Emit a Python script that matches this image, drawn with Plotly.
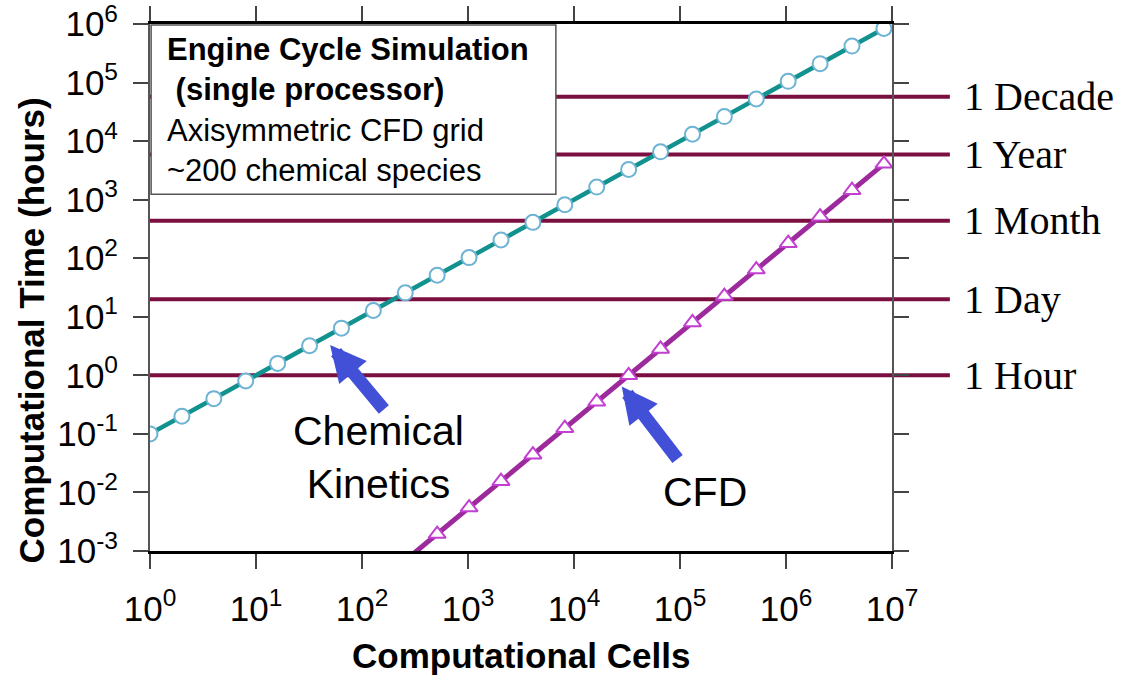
import math
import plotly.graph_objects as go

# ---- data ----
chem_cells = [1, 2, 4, 8, 16, 32, 64, 128, 256, 512, 1024, 2048, 4096, 8192,
              16384, 32768, 65536, 131072, 262144, 524288, 1048576, 2097152,
              4194304, 8388608]
chem_hours = [0.1, 0.2, 0.4, 0.8, 1.6, 3.2, 6.4, 12.8, 25.6, 51.2, 102.4, 204.8,
              409.6, 819.2, 1638.4, 3276.8, 6553.6, 13107.2, 26214.4, 52428.8,
              104857.6, 209715.2, 419430.4, 838860.8]

cfd_cells = [256, 512, 1024, 2048, 4096, 8192, 16384, 32768, 65536, 131072,
             262144, 524288, 1048576, 2097152, 4194304, 8388608]
cfd_hours = [0.00069, 0.00195, 0.00552, 0.0156, 0.0442, 0.125, 0.354, 1.0, 2.83,
             8.0, 22.6, 64.0, 181.0, 512.0, 1448.0, 4096.0]

ref_labels = ["1 Hour", "1 Day", "1 Month", "1 Year", "1 Decade"]
ref_hours = [1.0, 20.0, 435.0, 5900.0, 57000.0]

x_tickvals = [1, 10, 100, 1000, 10000, 100000, 1000000, 10000000]
x_ticktext = ["10<sup>0</sup>", "10<sup>1</sup>", "10<sup>2</sup>", "10<sup>3</sup>",
              "10<sup>4</sup>", "10<sup>5</sup>", "10<sup>6</sup>", "10<sup>7</sup>"]
y_tickvals = [0.001, 0.01, 0.1, 1, 10, 100, 1000, 10000, 100000, 1000000]
y_ticktext = ["10<sup>-3</sup>", "10<sup>-2</sup>", "10<sup>-1</sup>", "10<sup>0</sup>",
              "10<sup>1</sup>", "10<sup>2</sup>", "10<sup>3</sup>", "10<sup>4</sup>",
              "10<sup>5</sup>", "10<sup>6</sup>"]

box_lines = ["<b>Engine Cycle Simulation</b>", "<b>\u00a0(single processor)</b>",
             "Axisymmetric CFD grid", "~200 chemical species"]

# ---- styling ----
TEAL = "#12928e"
LIGHTBLUE = "#6db3d4"
PURPLE = "#9c2a9c"
MAGENTA = "#c23fd2"
MAROON = "#7a0f40"
ARROW = "#4150d6"
SANS = "Liberation Sans, Arial, sans-serif"
NARROW = "Liberation Sans Narrow, Arial Narrow, Liberation Sans, sans-serif"
SERIF = "Liberation Serif, Times New Roman, serif"

fig = go.Figure()

fig.add_trace(go.Scatter(
    x=chem_cells, y=chem_hours, mode="lines+markers",
    line=dict(color=TEAL, width=4.5),
    marker=dict(symbol="circle", size=15, color="white",
                line=dict(color=LIGHTBLUE, width=2)),
    showlegend=False))

fig.add_trace(go.Scatter(
    x=cfd_cells, y=cfd_hours, mode="lines+markers",
    line=dict(color=PURPLE, width=5),
    marker=dict(symbol="triangle-up", size=15, color="white",
                line=dict(color=MAGENTA, width=2)),
    cliponaxis=True, showlegend=False))

shapes = []
for h in ref_hours:
    shapes.append(dict(type="line", xref="paper", yref="y", x0=0, x1=1.078,
                       y0=h, y1=h, line=dict(color=MAROON, width=4), layer="below"))
shapes.append(dict(type="rect", xref="paper", yref="paper", x0=0.0015, x1=0.547,
                   y0=0.677, y1=0.998, fillcolor="white",
                   line=dict(color="#555555", width=1.5), layer="above"))

annotations = []
for lab, h in zip(ref_labels, ref_hours):
    annotations.append(dict(text=lab, xref="paper", yref="y", x=1.094,
                            y=math.log10(h), xanchor="left", yanchor="middle",
                            showarrow=False, font=dict(family=SERIF, size=40, color="black")))

annotations.append(dict(text="<br>".join(box_lines), xref="paper", yref="paper",
                        x=0.0205, y=0.836, xanchor="left", yanchor="middle", align="left",
                        showarrow=False, font=dict(family=SANS, size=31, color="black")))

annotations.append(dict(text="Chemical<br>Kinetics", xref="x", yref="y",
                        x=2.151, y=-1.406, showarrow=False,
                        font=dict(family=SANS, size=41, color="black")))
annotations.append(dict(text="CFD", xref="x", yref="y", x=5.236, y=-1.986,
                        showarrow=False, font=dict(family=SANS, size=41, color="black")))

# arrows
annotations.append(dict(text="", xref="x", yref="y", x=math.log10(50), y=math.log10(3.3),
                        ax=55, ay=66, showarrow=True, arrowhead=2, arrowsize=0.55,
                        arrowwidth=13, arrowcolor=ARROW, standoff=0))
annotations.append(dict(text="", xref="x", yref="y", x=math.log10(28200), y=math.log10(0.646),
                        ax=57, ay=74, showarrow=True, arrowhead=2, arrowsize=0.55,
                        arrowwidth=13, arrowcolor=ARROW, standoff=0))

# axis titles
annotations.append(dict(text="<b>Computational Cells</b>", xref="paper", yref="paper",
                        x=0.5, y=-0.199, xanchor="center", yanchor="middle", showarrow=False,
                        font=dict(family=SANS, size=35, color="black")))
annotations.append(dict(text="<b>Computational Time (hours)</b>", xref="paper", yref="paper",
                        x=-0.160, y=0.419, xanchor="center", yanchor="middle", showarrow=False,
                        textangle=-90, font=dict(family=SANS, size=35, color="black")))

fig.update_layout(
    width=1127, height=680,
    margin=dict(l=150, r=235, t=24, b=129, autoexpand=False),
    paper_bgcolor="white", plot_bgcolor="white",
    shapes=shapes, annotations=annotations,
    font=dict(family=SANS, color="black"),
)

fig.update_xaxes(type="log", range=[0, 7], tickmode="array",
                 tickvals=x_tickvals, ticktext=x_ticktext, automargin=False,
                 showgrid=False, zeroline=False,
                 showline=True, linecolor="black", linewidth=2.5, mirror="ticks",
                 ticks="outside", ticklen=15, tickwidth=2, tickcolor="#444444",
                 ticklabelstandoff=10, ticklabeloverflow="allow",
                 tickfont=dict(family=NARROW, size=35, color="black"))
fig.update_yaxes(type="log", range=[-3, 6], tickmode="array",
                 tickvals=y_tickvals, ticktext=y_ticktext, automargin=False,
                 showgrid=False, zeroline=False,
                 showline=True, linecolor="#555555", linewidth=2, mirror="ticks",
                 ticks="outside", ticklen=15, tickwidth=2, tickcolor="#444444",
                 ticklabelstandoff=8, ticklabeloverflow="allow",
                 tickfont=dict(family=NARROW, size=35, color="black"))

fig.write_html("out.html")
